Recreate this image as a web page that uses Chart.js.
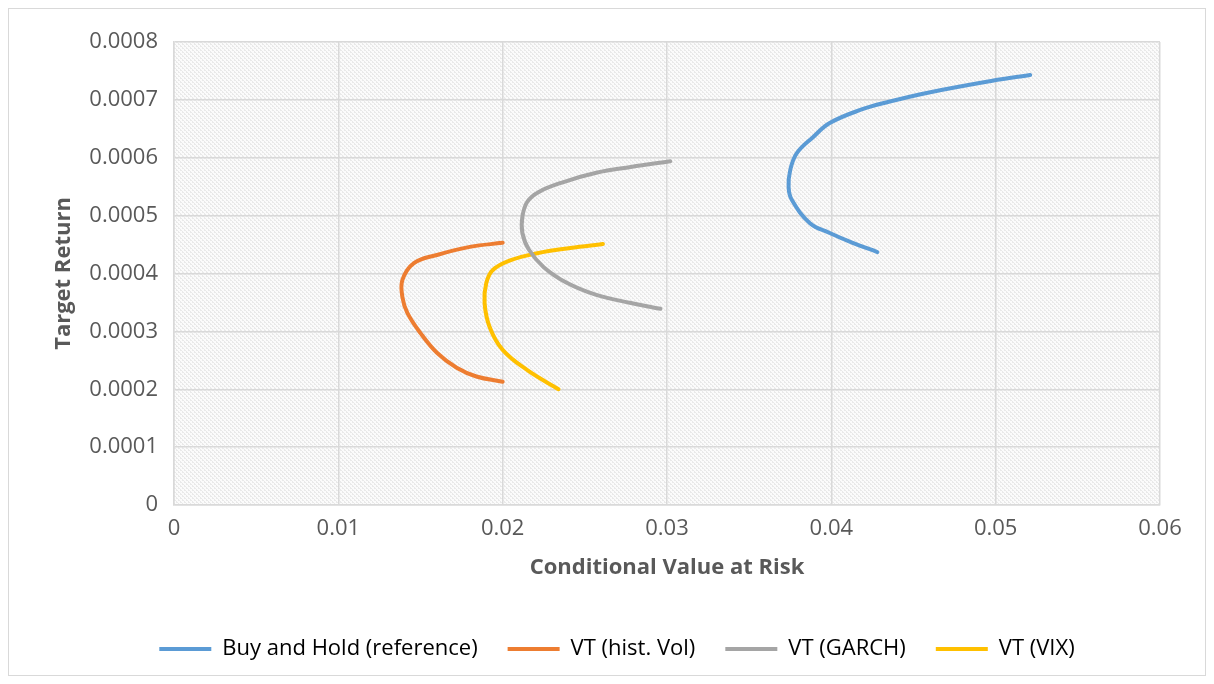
<!DOCTYPE html>
<html lang="en">
<head>
  <meta charset="UTF-8">
  <title>Efficient Frontier CVaR</title>
  <script src="https://cdn.jsdelivr.net/npm/chart.js"></script>
  <style>
    html, body { margin: 0; padding: 0; background: #fff; }
    #wrap { position: relative; width: 1214px; height: 684px; }
    #marco { position: absolute; left: 8px; top: 8px; width: 1196px; height: 666px;
             border: 1px solid #d9d9d9; pointer-events: none; }
  </style>
</head>
<body>
  <div id="wrap">
    <canvas id="grafico" width="1214" height="684"></canvas>
    <div id="marco"></div>
  </div>

  <script>
    // Datos (CVaR, retorno objetivo)
    const serieNombres = ["Buy and Hold (reference)", "VT (hist. Vol)", "VT (GARCH)", "VT (VIX)"];
    const serieColores = ["#5b9bd5", "#ed7d31", "#a5a5a5", "#ffc000"];

    const bhCvar = [0.0428, 0.0413, 0.0399, 0.0387, 0.0376, 0.0374, 0.0375, 0.0379, 0.0389, 0.0399, 0.0418, 0.0434, 0.0458, 0.0498, 0.0521];
    const bhRet  = [0.000437, 0.000453, 0.000470, 0.000487, 0.000527, 0.000549, 0.000579, 0.000608, 0.000636, 0.000660, 0.000683, 0.000696, 0.000712, 0.000733, 0.000743];

    const histCvar = [0.0200, 0.0184, 0.0172, 0.0160, 0.0150, 0.0142, 0.0139, 0.0139, 0.0146, 0.0160, 0.0180, 0.0200];
    const histRet  = [0.000213, 0.000222, 0.000237, 0.000263, 0.000297, 0.000332, 0.000359, 0.000389, 0.000418, 0.000432, 0.000446, 0.000453];

    const garchCvar = [0.0296, 0.0278, 0.0257, 0.0239, 0.0225, 0.0216, 0.0212, 0.0212, 0.0215, 0.0222, 0.0237, 0.0257, 0.0278, 0.0302];
    const garchRet  = [0.000339, 0.000349, 0.000363, 0.000384, 0.000411, 0.000441, 0.000470, 0.000498, 0.000524, 0.000541, 0.000558, 0.000574, 0.000584, 0.000594];

    const vixCvar = [0.0234, 0.0215, 0.0200, 0.0192, 0.0189, 0.0190, 0.0194, 0.0205, 0.0221, 0.0241, 0.0261];
    const vixRet  = [0.000200, 0.000233, 0.000268, 0.000308, 0.000349, 0.000383, 0.000406, 0.000423, 0.000435, 0.000444, 0.000451];

    const xTickLabels = ["0", "0.01", "0.02", "0.03", "0.04", "0.05", "0.06"];
    const yTickLabels = ["0", "0.0001", "0.0002", "0.0003", "0.0004", "0.0005", "0.0006", "0.0007", "0.0008"];

    const serieX = [bhCvar, histCvar, garchCvar, vixCvar];
    const serieY = [bhRet, histRet, garchRet, vixRet];

    // Fondo tramado del area de trazado
    function crearTrama() {
      const c = document.createElement("canvas");
      c.width = 4; c.height = 4;
      const g = c.getContext("2d");
      g.fillStyle = "#fbfbfb";
      g.fillRect(0, 0, 4, 4);
      g.fillStyle = "#e9e9e9";
      for (let i = 0; i < 4; i++) g.fillRect(i, (i + 1) % 4, 1, 1);
      g.fillRect(0, 2, 1, 1);
      g.fillRect(2, 0, 1, 1);
      return g.createPattern(c, "repeat");
    }

    const fondoPlugin = {
      id: "fondo",
      beforeDraw(chart) {
        const { ctx, chartArea: a } = chart;
        ctx.save();
        ctx.fillStyle = crearTrama();
        ctx.fillRect(a.left, a.top, a.right - a.left, a.bottom - a.top);
        ctx.restore();
      }
    };

    const fuente = "'Open Sans', 'Noto Sans', sans-serif";
    const gris = "#595959";

    const datasets = serieNombres.map((nombre, i) => ({
      label: nombre,
      data: serieX[i].map((x, j) => ({ x: x, y: serieY[i][j] })),
      borderColor: serieColores[i],
      backgroundColor: serieColores[i],
      borderWidth: 4,
      borderCapStyle: "round",
      showLine: true,
      pointRadius: 0,
      tension: 0.4
    }));

    new Chart(document.getElementById("grafico"), {
      type: "scatter",
      data: { datasets: datasets },
      plugins: [fondoPlugin],
      options: {
        responsive: false,
        animation: false,
        layout: { padding: { left: 74, right: 54, top: 42, bottom: 14 } },
        plugins: {
          tooltip: { enabled: false },
          legend: {
            position: "bottom",
            labels: {
              boxWidth: 52,
              boxHeight: 4,
              padding: 30,
              color: gris,
              font: { family: fuente, size: 22 },
              generateLabels(chart) {
                return chart.data.datasets.map((d, i) => ({
                  text: d.label,
                  fillStyle: d.borderColor,
                  strokeStyle: d.borderColor,
                  lineWidth: 0,
                  datasetIndex: i
                }));
              }
            }
          }
        },
        scales: {
          x: {
            type: "linear",
            min: 0,
            max: 0.06,
            afterFit(scale) { scale.height = 103; },
            ticks: {
              stepSize: 0.01,
              color: gris,
              padding: 11,
              font: { family: fuente, size: 22 },
              callback: (v, i) => xTickLabels[i]
            },
            grid: { color: "#d9d9d9", lineWidth: 1.5, drawTicks: false },
            border: { color: "#d9d9d9", width: 1.5 },
            title: {
              display: true,
              text: "Conditional Value at Risk",
              color: gris,
              font: { family: fuente, size: 22, weight: "bold" },
              padding: { top: 0, bottom: 27 }
            }
          },
          y: {
            type: "linear",
            min: 0,
            max: 0.0008,
            afterFit(scale) { scale.width = 100; },
            ticks: {
              stepSize: 0.0001,
              color: gris,
              padding: 16,
              font: { family: fuente, size: 22 },
              callback: (v, i) => yTickLabels[i]
            },
            grid: { color: "#d9d9d9", lineWidth: 1.5, drawTicks: false },
            border: { color: "#d9d9d9", width: 1.5 },
            title: {
              display: true,
              text: "Target Return",
              color: gris,
              font: { family: fuente, size: 22, weight: "bold" },
              padding: { top: -23, bottom: 0 }
            }
          }
        }
      }
    });
  </script>
</body>
</html>
